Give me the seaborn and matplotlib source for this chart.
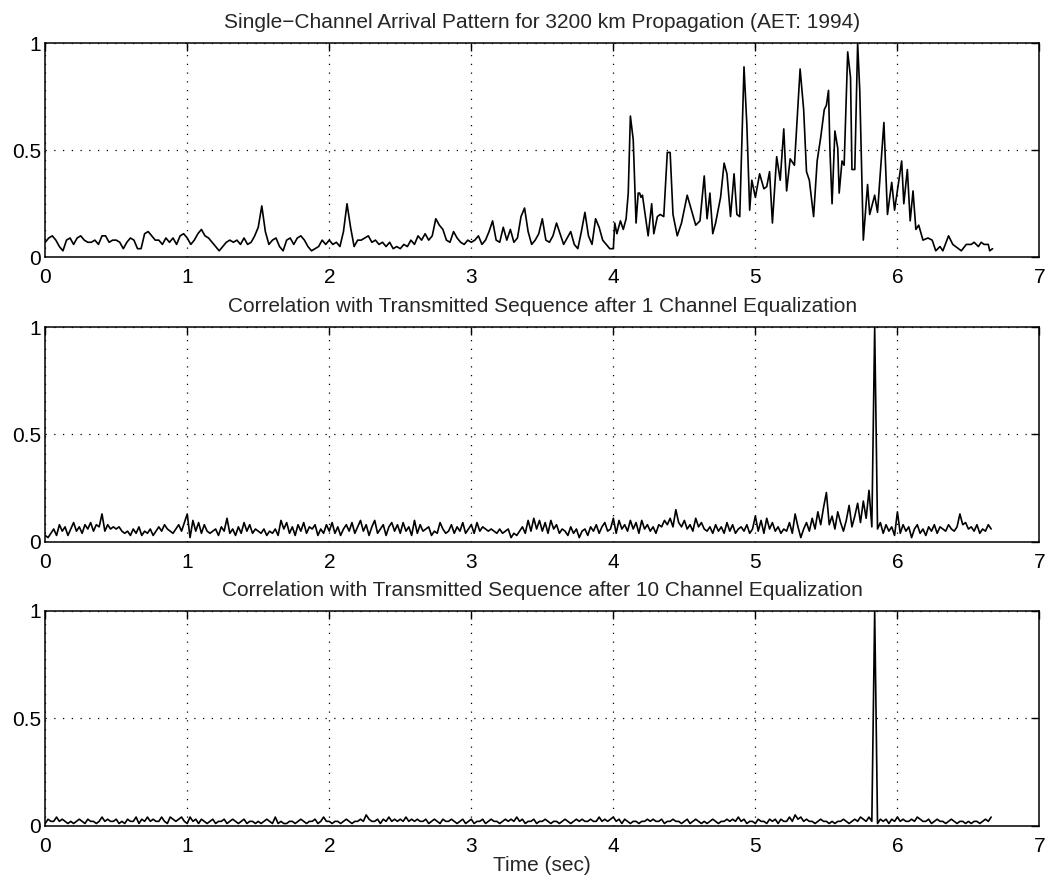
import numpy as np
import pandas as pd
import matplotlib
matplotlib.use("Agg")
import matplotlib.pyplot as plt
import seaborn as sns

####################################################################
# data

# single-channel arrival, 0 .. 3.975 s, 0.025 s steps
arrival_dt = 0.025
arrival_early = [
    0.07, 0.09, 0.10, 0.08, 0.05, 0.03, 0.08, 0.09, 0.06, 0.09,
    0.10, 0.08, 0.07, 0.07, 0.08, 0.06, 0.10, 0.10, 0.07, 0.08,
    0.08, 0.07, 0.04, 0.07, 0.09, 0.08, 0.04, 0.04, 0.11, 0.12,
    0.10, 0.08, 0.08, 0.06, 0.09, 0.07, 0.09, 0.06, 0.10, 0.11,
    # 1 s
    0.09, 0.06, 0.08, 0.11, 0.13, 0.10, 0.09, 0.07, 0.05, 0.03,
    0.05, 0.07, 0.08, 0.07, 0.08, 0.06, 0.09, 0.06, 0.07, 0.10,
    0.14, 0.24, 0.12, 0.06, 0.08, 0.09, 0.05, 0.03, 0.08, 0.09,
    0.06, 0.09, 0.10, 0.08, 0.05, 0.03, 0.04, 0.05, 0.08, 0.06,
    # 2 s
    0.08, 0.06, 0.07, 0.05, 0.12, 0.25, 0.14, 0.05, 0.08, 0.08,
    0.09, 0.10, 0.07, 0.08, 0.06, 0.07, 0.05, 0.07, 0.04, 0.05,
    0.04, 0.06, 0.05, 0.08, 0.06, 0.10, 0.08, 0.11, 0.08, 0.10,
    0.18, 0.15, 0.13, 0.08, 0.07, 0.12, 0.09, 0.07, 0.06, 0.08,
    # 3 s
    0.07, 0.08, 0.10, 0.06, 0.08, 0.12, 0.17, 0.08, 0.07, 0.14,
    0.08, 0.13, 0.07, 0.09, 0.19, 0.23, 0.12, 0.06, 0.08, 0.11,
    0.18, 0.08, 0.07, 0.10, 0.16, 0.11, 0.06, 0.09, 0.12, 0.06,
    0.04, 0.12, 0.21, 0.10, 0.06, 0.18, 0.14, 0.08, 0.06, 0.04,
]

# arrival after 4 s, read peak by peak
arrival_late_t = [
    4.000, 4.010, 4.025, 4.050, 4.070, 4.090, 4.105, 4.120, 4.140, 4.160,
    4.175, 4.185, 4.195, 4.205, 4.230, 4.245, 4.270, 4.285, 4.310, 4.330,
    4.355, 4.380, 4.400, 4.420, 4.450, 4.480, 4.520, 4.550, 4.580, 4.610,
    4.640, 4.660, 4.680, 4.700, 4.720, 4.755, 4.780, 4.800, 4.825, 4.850,
    4.870, 4.890, 4.920, 4.940, 4.960, 4.975, 5.000, 5.030, 5.060, 5.080,
    5.100, 5.120, 5.150, 5.175, 5.200, 5.220, 5.245, 5.275, 5.315, 5.340,
    5.360, 5.380, 5.410, 5.435, 5.460, 5.485, 5.500, 5.515, 5.525, 5.540,
    5.560, 5.580, 5.590, 5.610, 5.625, 5.650, 5.670, 5.680, 5.700, 5.720,
    5.735, 5.760, 5.790, 5.805, 5.840, 5.860, 5.905, 5.930, 5.960, 5.980,
    6.030, 6.045, 6.070, 6.090, 6.110, 6.130, 6.150, 6.180, 6.215, 6.245,
    6.270, 6.300, 6.320, 6.360, 6.390, 6.430, 6.450, 6.485, 6.520, 6.540,
    6.570, 6.590, 6.610, 6.640, 6.650, 6.670,
]
arrival_late = [
    0.04, 0.16, 0.11, 0.17, 0.13, 0.18, 0.30, 0.66, 0.55, 0.16,
    0.30, 0.30, 0.28, 0.29, 0.17, 0.10, 0.25, 0.11, 0.19, 0.20,
    0.19, 0.49, 0.49, 0.20, 0.10, 0.16, 0.29, 0.22, 0.15, 0.17,
    0.38, 0.18, 0.30, 0.11, 0.16, 0.28, 0.44, 0.39, 0.19, 0.39,
    0.20, 0.19, 0.89, 0.62, 0.22, 0.36, 0.28, 0.39, 0.32, 0.33,
    0.40, 0.16, 0.47, 0.36, 0.60, 0.31, 0.46, 0.43, 0.88, 0.69,
    0.40, 0.36, 0.19, 0.45, 0.56, 0.69, 0.71, 0.78, 0.50, 0.25,
    0.59, 0.51, 0.30, 0.45, 0.43, 0.96, 0.84, 0.41, 0.41, 1.00,
    0.78, 0.08, 0.34, 0.20, 0.29, 0.21, 0.63, 0.20, 0.35, 0.22,
    0.45, 0.25, 0.41, 0.17, 0.31, 0.13, 0.15, 0.08, 0.09, 0.08,
    0.03, 0.05, 0.03, 0.10, 0.06, 0.04, 0.03, 0.06, 0.06, 0.07,
    0.05, 0.07, 0.06, 0.06, 0.03, 0.04,
]

# correlation outputs, 0 .. 6.66 s, 0.02 s steps
corr_dt = 0.02
corr_1ch = [
    0.03, 0.02, 0.04, 0.06, 0.03, 0.08, 0.05, 0.07, 0.03, 0.06, 0.09, 0.05, 0.07, 0.04, 0.08, 0.06, 0.09, 0.05, 0.08, 0.07, 0.13, 0.05, 0.08, 0.06, 0.07,
    0.06, 0.07, 0.05, 0.04, 0.05, 0.03, 0.06, 0.04, 0.07, 0.03, 0.05, 0.04, 0.06, 0.03, 0.05, 0.07, 0.05, 0.08, 0.06, 0.05, 0.04, 0.06, 0.08, 0.05, 0.09,
    0.13, 0.02, 0.10, 0.05, 0.09, 0.04, 0.08, 0.05, 0.04, 0.05, 0.06, 0.03, 0.07, 0.05, 0.11, 0.04, 0.06, 0.03, 0.07, 0.04, 0.09, 0.05, 0.08, 0.04, 0.06,
    0.05, 0.04, 0.06, 0.03, 0.05, 0.04, 0.06, 0.03, 0.10, 0.06, 0.09, 0.04, 0.07, 0.03, 0.08, 0.05, 0.09, 0.04, 0.07, 0.06, 0.08, 0.03, 0.06, 0.04, 0.08,
    0.05, 0.09, 0.04, 0.07, 0.03, 0.06, 0.08, 0.05, 0.09, 0.04, 0.07, 0.10, 0.05, 0.08, 0.03, 0.07, 0.10, 0.04, 0.06, 0.08, 0.03, 0.07, 0.09, 0.05, 0.08,
    0.04, 0.09, 0.05, 0.07, 0.03, 0.10, 0.04, 0.08, 0.05, 0.06, 0.07, 0.03, 0.05, 0.04, 0.09, 0.06, 0.04, 0.05, 0.08, 0.04, 0.07, 0.05, 0.09, 0.04, 0.06,
    0.08, 0.04, 0.09, 0.05, 0.07, 0.06, 0.05, 0.06, 0.05, 0.04, 0.06, 0.04, 0.05, 0.06, 0.02, 0.04, 0.03, 0.05, 0.07, 0.04, 0.10, 0.05, 0.11, 0.06, 0.10,
    0.05, 0.09, 0.04, 0.10, 0.06, 0.08, 0.04, 0.06, 0.05, 0.03, 0.07, 0.04, 0.06, 0.02, 0.05, 0.06, 0.03, 0.07, 0.05, 0.08, 0.04, 0.07, 0.09, 0.05, 0.06,
    0.11, 0.04, 0.10, 0.06, 0.08, 0.05, 0.10, 0.06, 0.09, 0.04, 0.10, 0.06, 0.08, 0.05, 0.07, 0.04, 0.08, 0.07, 0.10, 0.08, 0.11, 0.07, 0.15, 0.09, 0.07,
    0.10, 0.06, 0.08, 0.05, 0.11, 0.07, 0.09, 0.06, 0.05, 0.07, 0.04, 0.08, 0.05, 0.07, 0.04, 0.09, 0.05, 0.08, 0.04, 0.06, 0.07, 0.05, 0.08, 0.04, 0.06,
    0.12, 0.05, 0.10, 0.04, 0.11, 0.06, 0.09, 0.05, 0.07, 0.04, 0.06, 0.05, 0.09, 0.04, 0.13, 0.07, 0.02, 0.06, 0.09, 0.05, 0.11, 0.06, 0.14, 0.08, 0.16,
    0.23, 0.08, 0.12, 0.06, 0.14, 0.09, 0.05, 0.10, 0.17, 0.07, 0.12, 0.18, 0.09, 0.19, 0.11, 0.24, 0.07, 1.00, 0.06, 0.09, 0.04, 0.08, 0.05, 0.07, 0.03,
    0.14, 0.04, 0.08, 0.05, 0.07, 0.02, 0.06, 0.08, 0.04, 0.06, 0.03, 0.07, 0.05, 0.08, 0.04, 0.07, 0.06, 0.05, 0.08, 0.06, 0.05, 0.07, 0.13, 0.08, 0.09,
    0.06, 0.07, 0.05, 0.08, 0.04, 0.06, 0.05, 0.08, 0.06,
]
corr_10ch = [
    0.01, 0.03, 0.02, 0.02, 0.04, 0.02, 0.03, 0.02, 0.01, 0.02, 0.01, 0.02, 0.03, 0.02, 0.01, 0.03, 0.02, 0.02, 0.01, 0.02, 0.04, 0.02, 0.03, 0.02, 0.02,
    0.03, 0.01, 0.02, 0.01, 0.03, 0.02, 0.02, 0.04, 0.01, 0.03, 0.02, 0.04, 0.02, 0.03, 0.02, 0.02, 0.04, 0.02, 0.01, 0.04, 0.03, 0.02, 0.03, 0.04, 0.02,
    0.01, 0.04, 0.02, 0.03, 0.01, 0.03, 0.02, 0.01, 0.02, 0.03, 0.01, 0.02, 0.02, 0.03, 0.01, 0.02, 0.03, 0.02, 0.01, 0.02, 0.03, 0.01, 0.02, 0.02, 0.01,
    0.02, 0.01, 0.02, 0.03, 0.02, 0.01, 0.04, 0.01, 0.02, 0.01, 0.01, 0.02, 0.02, 0.01, 0.02, 0.03, 0.02, 0.01, 0.02, 0.02, 0.03, 0.01, 0.02, 0.04, 0.02,
    0.02, 0.01, 0.02, 0.02, 0.01, 0.02, 0.03, 0.02, 0.01, 0.02, 0.02, 0.03, 0.02, 0.05, 0.03, 0.02, 0.02, 0.03, 0.01, 0.03, 0.02, 0.04, 0.02, 0.03, 0.02,
    0.03, 0.02, 0.04, 0.02, 0.03, 0.02, 0.03, 0.02, 0.02, 0.03, 0.01, 0.02, 0.03, 0.02, 0.01, 0.03, 0.02, 0.02, 0.03, 0.02, 0.01, 0.02, 0.03, 0.01, 0.02,
    0.03, 0.01, 0.02, 0.02, 0.03, 0.01, 0.02, 0.03, 0.02, 0.02, 0.01, 0.02, 0.03, 0.02, 0.03, 0.02, 0.04, 0.02, 0.03, 0.01, 0.02, 0.02, 0.03, 0.01, 0.02,
    0.02, 0.03, 0.02, 0.01, 0.02, 0.02, 0.01, 0.02, 0.03, 0.02, 0.01, 0.02, 0.03, 0.02, 0.03, 0.02, 0.02, 0.03, 0.02, 0.02, 0.04, 0.02, 0.03, 0.02, 0.03,
    0.04, 0.02, 0.03, 0.01, 0.03, 0.02, 0.01, 0.02, 0.02, 0.01, 0.02, 0.02, 0.03, 0.02, 0.03, 0.02, 0.02, 0.03, 0.01, 0.02, 0.02, 0.03, 0.02, 0.02, 0.01,
    0.02, 0.03, 0.01, 0.02, 0.03, 0.02, 0.01, 0.02, 0.01, 0.02, 0.03, 0.02, 0.01, 0.02, 0.02, 0.03, 0.02, 0.03, 0.02, 0.04, 0.02, 0.03, 0.01, 0.02, 0.02,
    0.01, 0.03, 0.02, 0.02, 0.01, 0.03, 0.02, 0.03, 0.01, 0.03, 0.02, 0.02, 0.04, 0.02, 0.05, 0.03, 0.04, 0.02, 0.03, 0.02, 0.02, 0.01, 0.02, 0.03, 0.02,
    0.02, 0.01, 0.02, 0.01, 0.02, 0.02, 0.03, 0.02, 0.01, 0.02, 0.03, 0.02, 0.04, 0.03, 0.02, 0.04, 0.02, 1.00, 0.01, 0.03, 0.02, 0.03, 0.01, 0.03, 0.02,
    0.04, 0.02, 0.03, 0.02, 0.02, 0.03, 0.02, 0.04, 0.03, 0.02, 0.02, 0.03, 0.01, 0.02, 0.03, 0.02, 0.02, 0.01, 0.02, 0.03, 0.02, 0.01, 0.02, 0.02, 0.01,
    0.02, 0.01, 0.02, 0.02, 0.01, 0.02, 0.03, 0.02, 0.04,
]

titles = [
    "Single\u2212Channel Arrival Pattern for 3200 km Propagation (AET: 1994)",
    "Correlation with Transmitted Sequence after 1 Channel Equalization",
    "Correlation with Transmitted Sequence after 10 Channel Equalization",
]
x_ticks = [0, 1, 2, 3, 4, 5, 6, 7]
y_ticks = [0, 0.5, 1]
y_tick_labels = ["0", "0.5", "1"]

FS = 15

####################################################################

def build_frames():
    t_early = np.arange(len(arrival_early)) * arrival_dt
    arrival = pd.DataFrame({
        "t": np.concatenate([t_early, arrival_late_t]),
        "amp": np.concatenate([arrival_early, arrival_late]),
    })
    one = pd.DataFrame({"t": np.arange(len(corr_1ch)) * corr_dt, "amp": corr_1ch})
    ten = pd.DataFrame({"t": np.arange(len(corr_10ch)) * corr_dt, "amp": corr_10ch})
    return [arrival, one, ten]


def style_axis(ax, title):
    """
    Matlab-ish look: boxed axes, inward ticks, dotted grid
    """
    ax.set_xlim(0, 7)
    ax.set_ylim(0, 1)
    ax.set_xticks(x_ticks)
    ax.set_xticklabels([str(v) for v in x_ticks])
    ax.set_yticks(y_ticks)
    ax.set_yticklabels(y_tick_labels)
    ax.tick_params(direction="in", length=6, width=1, top=True, right=True,
                   labelsize=FS, colors="black")
    ax.tick_params(axis="x", pad=8)
    ax.tick_params(axis="y", pad=3)
    ax.grid(True, color="black", linestyle=(0, (1, 6)), linewidth=0.9)
    for s in ax.spines.values():
        s.set_color("black")
        s.set_linewidth(1.1)
    ax.set_xlabel("")
    ax.set_ylabel("")
    ax.set_title(title, fontsize=FS, pad=11)


sns.set_style("white")
plt.rcParams["font.family"] = ["Liberation Sans", "DejaVu Sans"]

fig = plt.figure(figsize=(10.51, 8.84), dpi=100)
rects = [
    [0.043, 0.709, 0.946, 0.242],
    [0.043, 0.387, 0.946, 0.243],
    [0.043, 0.066, 0.946, 0.243],
]

for rect, df, title in zip(rects, build_frames(), titles):
    ax = fig.add_axes(rect)
    sns.lineplot(data=df, x="t", y="amp", ax=ax, color="black",
                 linewidth=1.2, estimator=None, sort=False)
    style_axis(ax, title)

ax.set_xlabel("Time (sec)", fontsize=FS, labelpad=0)

fig.savefig("out.png", dpi=100)
